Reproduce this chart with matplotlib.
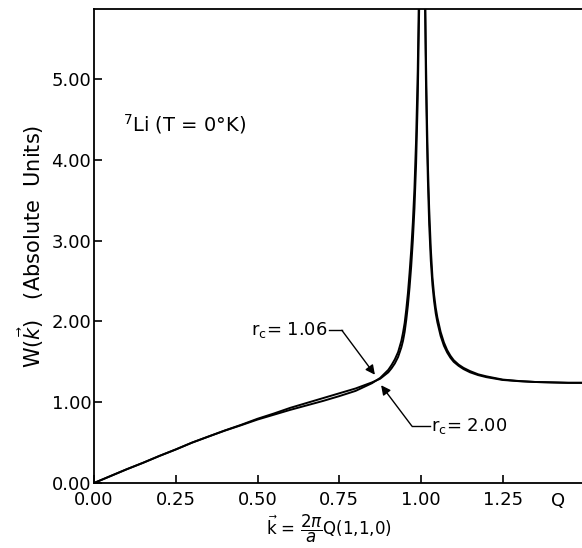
import matplotlib
matplotlib.use("Agg")
import matplotlib.pyplot as plt

plt.rcParams['font.family'] = ['DejaVu Sans']
plt.rcParams['mathtext.fontset'] = 'dejavusans'

# ---- data ----
q_left = [0.0, 0.05, 0.10, 0.15, 0.20, 0.25, 0.30, 0.35, 0.40, 0.45, 0.50, 0.55,
          0.60, 0.65, 0.70, 0.75, 0.80, 0.85, 0.875, 0.90, 0.91, 0.92, 0.93, 0.935,
          0.94, 0.945, 0.95, 0.955, 0.96, 0.965, 0.97, 0.975, 0.98, 0.985, 0.99,
          0.993, 0.996]
w106_left = [0.0, 0.085, 0.17, 0.25, 0.335, 0.415, 0.50, 0.575, 0.65, 0.72, 0.795, 0.86,
             0.93, 0.99, 1.05, 1.11, 1.17, 1.245, 1.29, 1.37, 1.42, 1.48, 1.56, 1.62,
             1.68, 1.76, 1.87, 2.02, 2.20, 2.42, 2.68, 3.00, 3.40, 3.95, 4.75,
             5.50, 6.30]
w200_left = [0.0, 0.085, 0.17, 0.25, 0.335, 0.415, 0.50, 0.575, 0.648, 0.715, 0.785, 0.845,
             0.905, 0.96, 1.015, 1.075, 1.14, 1.235, 1.30, 1.40, 1.46, 1.53, 1.62, 1.69,
             1.76, 1.86, 1.98, 2.15, 2.35, 2.60, 2.88, 3.22, 3.65, 4.25, 5.10,
             5.90, 6.50]

q_right = [1.012, 1.015, 1.018, 1.021, 1.025, 1.03, 1.035, 1.04, 1.045, 1.05, 1.06,
           1.07, 1.08, 1.09, 1.10, 1.115, 1.13, 1.15, 1.175, 1.20, 1.25, 1.30, 1.35,
           1.40, 1.45, 1.50]
w106_right = [6.00, 5.00, 4.30, 3.75, 3.20, 2.75, 2.45, 2.25, 2.10, 1.99, 1.82,
              1.70, 1.615, 1.55, 1.50, 1.45, 1.41, 1.37, 1.335, 1.31, 1.275, 1.26, 1.25,
              1.245, 1.24, 1.24]
w200_right = [6.40, 5.30, 4.55, 3.95, 3.40, 2.90, 2.55, 2.33, 2.17, 2.05, 1.87,
              1.74, 1.645, 1.575, 1.52, 1.465, 1.425, 1.385, 1.345, 1.32, 1.28, 1.262, 1.25,
              1.245, 1.24, 1.24]

xticks = [0.0, 0.25, 0.50, 0.75, 1.00, 1.25]
xtick_labels = ["0.00", "0.25", "0.50", "0.75", "1.00", "1.25"]
yticks = [0, 1, 2, 3, 4, 5]
ytick_labels = ["0.00", "1.00", "2.00", "3.00", "4.00", "5.00"]

fig = plt.figure(figsize=(5.82, 5.48), dpi=100)
ax = fig.add_axes([94/582, 65/548, 1 - 94/582, (483 - 9)/548])

for ql, wl, qr, wr in [(q_left, w106_left, q_right, w106_right),
                       (q_left, w200_left, q_right, w200_right)]:
    ax.plot(ql, wl, color='black', lw=1.4, solid_capstyle='butt')
    ax.plot(qr, wr, color='black', lw=1.4, solid_capstyle='butt')

ax.set_xlim(0, (582 - 94) / 327)
ax.set_ylim(0, (483 - 9) / 80.8)
ax.spines['right'].set_visible(False)
for s in ['left', 'bottom', 'top']:
    ax.spines[s].set_linewidth(1.3)

ax.set_xticks(xticks)
ax.set_xticklabels(xtick_labels)
ax.set_yticks(yticks)
ax.set_yticklabels(ytick_labels)
ax.tick_params(direction='in', length=6, width=1.2, labelsize=13)
ax.tick_params(axis='x', pad=6)
ax.tick_params(axis='y', pad=2)

ax.text(1.42, -0.019, "Q", transform=ax.get_xaxis_transform(), ha='center',
        va='top', fontsize=13)

ax.set_ylabel(r"W$(\vec{k})$   (Absolute  Units)", fontsize=15, labelpad=4)
fig.text(0.565, 0.035, r"$\vec{\mathrm{k}}$ = $\dfrac{2\pi}{a}$Q(1,1,0)", ha='center',
         va='center', fontsize=12)

ax.text(0.09, 4.44, r"$^7$Li (T = 0$\degree$K)", fontsize=14, va='center', ha='left')

# annotations
ax.text(0.716, 1.89, r"r$_\mathrm{c}$= 1.06", fontsize=13, ha='right', va='center')
ax.plot([0.718, 0.758], [1.89, 1.89], color='black', lw=1)
ax.annotate('', xy=(0.859, 1.34), xytext=(0.758, 1.89),
            arrowprops=dict(arrowstyle='-|>', color='black', lw=1,
                            mutation_scale=14, shrinkA=0, shrinkB=0))
ax.text(1.03, 0.705, r"r$_\mathrm{c}$= 2.00", fontsize=13, ha='left', va='center')
ax.plot([0.972, 1.028], [0.705, 0.705], color='black', lw=1)
ax.annotate('', xy=(0.878, 1.21), xytext=(0.972, 0.705),
            arrowprops=dict(arrowstyle='-|>', color='black', lw=1,
                            mutation_scale=14, shrinkA=0, shrinkB=0))

fig.savefig("out.png", dpi=100)
